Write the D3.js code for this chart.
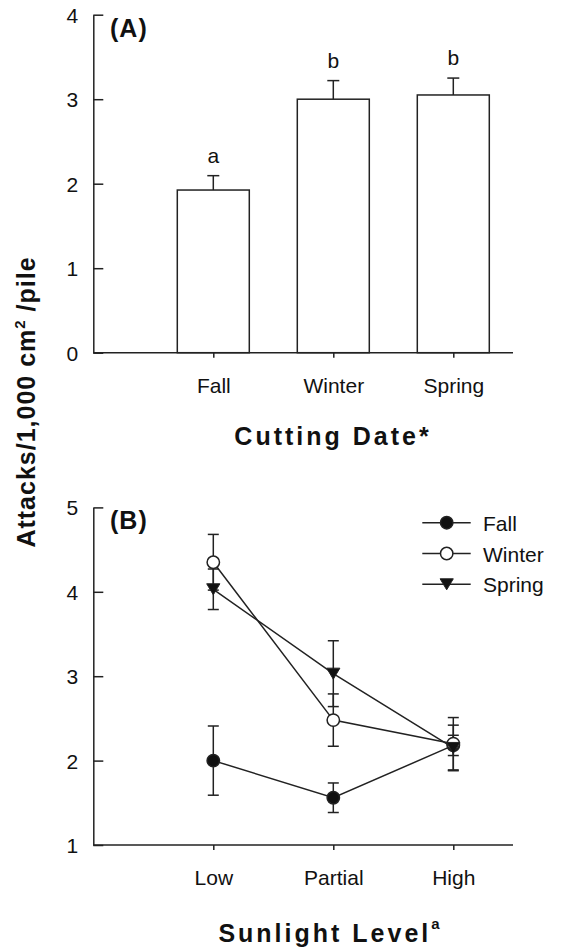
<!DOCTYPE html>
<html>
<head>
<meta charset="utf-8">
<script src="https://cdn.jsdelivr.net/npm/d3@7"></script>
<style>
  body { margin: 0; background: #fff; }
  text { font-family: "Liberation Sans", Arial, Helvetica, sans-serif; fill: #111; }
</style>
</head>
<body>
<svg id="chart" width="572" height="952"></svg>
<script>
// Panel A: attacks by cutting date (mean + SE)
const cuttingDates = ["Fall", "Winter", "Spring"];
const attackMeans = [1.925, 3.00, 3.05];
const attackErrors = [0.17, 0.22, 0.20];
const groupLetters = ["a", "b", "b"];
const ticksA = [0, 1, 2, 3, 4];

// Panel B: attacks by sunlight level for each cutting date (mean ± SE)
const sunlightLevels = ["Low", "Partial", "High"];
const seriesNames = ["Fall", "Winter", "Spring"];
const fallMeans = [2.00, 1.56, 2.18];
const fallErrors = [0.41, 0.175, 0.12];
const winterMeans = [4.35, 2.48, 2.20];
const winterErrors = [0.33, 0.31, 0.31];
const springMeans = [4.03, 3.03, 2.15];
const springErrors = [0.24, 0.39, 0.27];
const ticksB = [1, 2, 3, 4, 5];

const INK = "#222";
const SW = 1.5;
const svg = d3.select("#chart");

// ---------- shared geometry ----------
const axisX = 93.3, axisRight = 513;

function yAxis(g, scale, ticks) {
  const ax = d3.axisLeft(scale).tickValues(ticks).tickSizeInner(-10).tickSizeOuter(0).tickPadding(15)
    .tickFormat(d3.format("d"));
  g.attr("transform", `translate(${axisX},0)`).call(ax);
  g.select(".domain").attr("stroke", INK).attr("stroke-width", SW);
  g.selectAll(".tick line").attr("stroke", INK).attr("stroke-width", SW);
  g.selectAll(".tick text").attr("font-size", 21).attr("dy", "0.36em")
    .style("font-family", "'Liberation Sans', Arial, sans-serif").attr("fill", "#111");
}

function xAxis(g, scale, y0) {
  const ax = d3.axisBottom(scale).tickSizeInner(5).tickSizeOuter(0);
  g.attr("transform", `translate(0,${y0})`).call(ax);
  g.select(".domain").remove();
  g.append("line").attr("x1", axisX).attr("x2", axisRight).attr("y1", 0).attr("y2", 0)
    .attr("stroke", INK).attr("stroke-width", SW);
  g.selectAll(".tick line").attr("stroke", INK).attr("stroke-width", SW);
  g.selectAll(".tick text").attr("font-size", 21).attr("y", 40).attr("dy", 0)
    .style("font-family", "'Liberation Sans', Arial, sans-serif").attr("fill", "#111");
}

// ---------- Panel A ----------
const yA = d3.scaleLinear().domain([0, 4]).range([352.7, 14.7]);
const xA = d3.scalePoint().domain(cuttingDates).range([213.3, 453.3]);
const barW = 72;

const gA = svg.append("g");
const barData = cuttingDates.map((c, i) => ({ c, m: attackMeans[i], e: attackErrors[i], l: groupLetters[i] }));

gA.selectAll("rect.bar").data(barData).join("rect")
  .attr("class", "bar")
  .attr("x", d => xA(d.c) - barW / 2)
  .attr("y", d => yA(d.m))
  .attr("width", barW)
  .attr("height", d => yA(0) - yA(d.m))
  .attr("fill", "#fff").attr("stroke", INK).attr("stroke-width", SW);

// upward error bars
gA.selectAll("line.err").data(barData).join("line")
  .attr("class", "err")
  .attr("x1", d => xA(d.c)).attr("x2", d => xA(d.c))
  .attr("y1", d => yA(d.m)).attr("y2", d => yA(d.m + d.e))
  .attr("stroke", INK).attr("stroke-width", SW);
gA.selectAll("line.cap").data(barData).join("line")
  .attr("class", "cap")
  .attr("x1", d => xA(d.c) - 6).attr("x2", d => xA(d.c) + 6)
  .attr("y1", d => yA(d.m + d.e)).attr("y2", d => yA(d.m + d.e))
  .attr("stroke", INK).attr("stroke-width", SW);

// significance letters
gA.selectAll("text.letter").data(barData).join("text")
  .attr("class", "letter")
  .attr("x", d => xA(d.c)).attr("y", d => yA(d.m + d.e) - 13)
  .attr("text-anchor", "middle").attr("font-size", 21)
  .text(d => d.l);

yAxis(gA.append("g"), yA, ticksA);
xAxis(gA.append("g"), xA, yA(0));

gA.append("text").attr("x", 110).attr("y", 37).attr("font-size", 25).attr("font-weight", "bold")
  .attr("letter-spacing", 1).text("(A)");

gA.append("text").attr("x", 333).attr("y", 445).attr("text-anchor", "middle")
  .attr("font-size", 25).attr("font-weight", "bold").attr("letter-spacing", 3)
  .text("Cutting Date*");

// ---------- Panel B ----------
const yB = d3.scaleLinear().domain([1, 5]).range([845, 507.4]);
const xB = d3.scalePoint().domain(sunlightLevels).range([213.3, 453.3]);

const gB = svg.append("g");
const series = [
  { name: seriesNames[0], means: fallMeans, errs: fallErrors, shape: "circle", fill: "#111" },
  { name: seriesNames[1], means: winterMeans, errs: winterErrors, shape: "circle", fill: "#fff" },
  { name: seriesNames[2], means: springMeans, errs: springErrors, shape: "triangle", fill: "#111" }
];
series.forEach(s => {
  s.points = sunlightLevels.map((lv, i) => ({ lv, m: s.means[i], e: s.errs[i] }));
});

const line = d3.line().x(d => xB(d.lv)).y(d => yB(d.m));

function drawMarker(g, s, x, y) {
  if (s.shape === "circle") {
    g.append("circle").attr("cx", x).attr("cy", y).attr("r", 6.2)
      .attr("fill", s.fill).attr("stroke", INK).attr("stroke-width", SW);
  } else {
    const w = 6.6, h = 11;
    g.append("path")
      .attr("d", `M${x - w},${y - h / 2}L${x + w},${y - h / 2}L${x},${y + h / 2}Z`)
      .attr("fill", s.fill).attr("stroke", INK).attr("stroke-width", 1);
  }
}

// connecting lines
series.forEach(s => {
  gB.append("path").datum(s.points).attr("d", line)
    .attr("fill", "none").attr("stroke", INK).attr("stroke-width", SW);
});
// error bars
series.forEach(s => {
  const eg = gB.append("g");
  eg.selectAll("line.v").data(s.points).join("line").attr("class", "v")
    .attr("x1", d => xB(d.lv)).attr("x2", d => xB(d.lv))
    .attr("y1", d => yB(d.m + d.e)).attr("y2", d => yB(d.m - d.e))
    .attr("stroke", INK).attr("stroke-width", SW);
  [1, -1].forEach(sg => {
    eg.selectAll(`line.c${sg}`).data(s.points).join("line").attr("class", `c${sg}`)
      .attr("x1", d => xB(d.lv) - 5.5).attr("x2", d => xB(d.lv) + 5.5)
      .attr("y1", d => yB(d.m + sg * d.e)).attr("y2", d => yB(d.m + sg * d.e))
      .attr("stroke", INK).attr("stroke-width", SW);
  });
});
// markers
series.forEach(s => {
  s.points.forEach(d => drawMarker(gB, s, xB(d.lv), yB(d.m)));
});

yAxis(gB.append("g"), yB, ticksB);
xAxis(gB.append("g"), xB, yB(1));

gB.append("text").attr("x", 110).attr("y", 528.5).attr("font-size", 25).attr("font-weight", "bold")
  .attr("letter-spacing", 1).text("(B)");

// legend
const legendY = d3.scalePoint().domain(seriesNames).range([522.7, 584.3]);
series.forEach(s => {
  const ly = legendY(s.name);
  gB.append("line").attr("x1", 422.3).attr("x2", 470.7).attr("y1", ly).attr("y2", ly)
    .attr("stroke", INK).attr("stroke-width", SW);
  drawMarker(gB, s, 446.7, ly);
  gB.append("text").attr("x", 483).attr("y", ly + 8).attr("font-size", 21).text(s.name);
});

const tB = gB.append("text").attr("x", 329).attr("y", 941.7).attr("text-anchor", "middle")
  .attr("font-size", 25).attr("font-weight", "bold").attr("letter-spacing", 3);
tB.append("tspan").text("Sunlight Level");
tB.append("tspan").attr("font-size", 15).attr("dy", -13).attr("letter-spacing", 0).text("a");

// shared y-axis title
const yt = svg.append("text").attr("transform", "translate(35,402) rotate(-90)")
  .attr("text-anchor", "middle").attr("font-size", 25).attr("font-weight", "bold").attr("letter-spacing", 1);
yt.append("tspan").text("Attacks/1,000 cm");
yt.append("tspan").attr("font-size", 15).attr("dy", -10).text("2");
yt.append("tspan").attr("dy", 10).text(" /pile");
</script>
</body>
</html>
